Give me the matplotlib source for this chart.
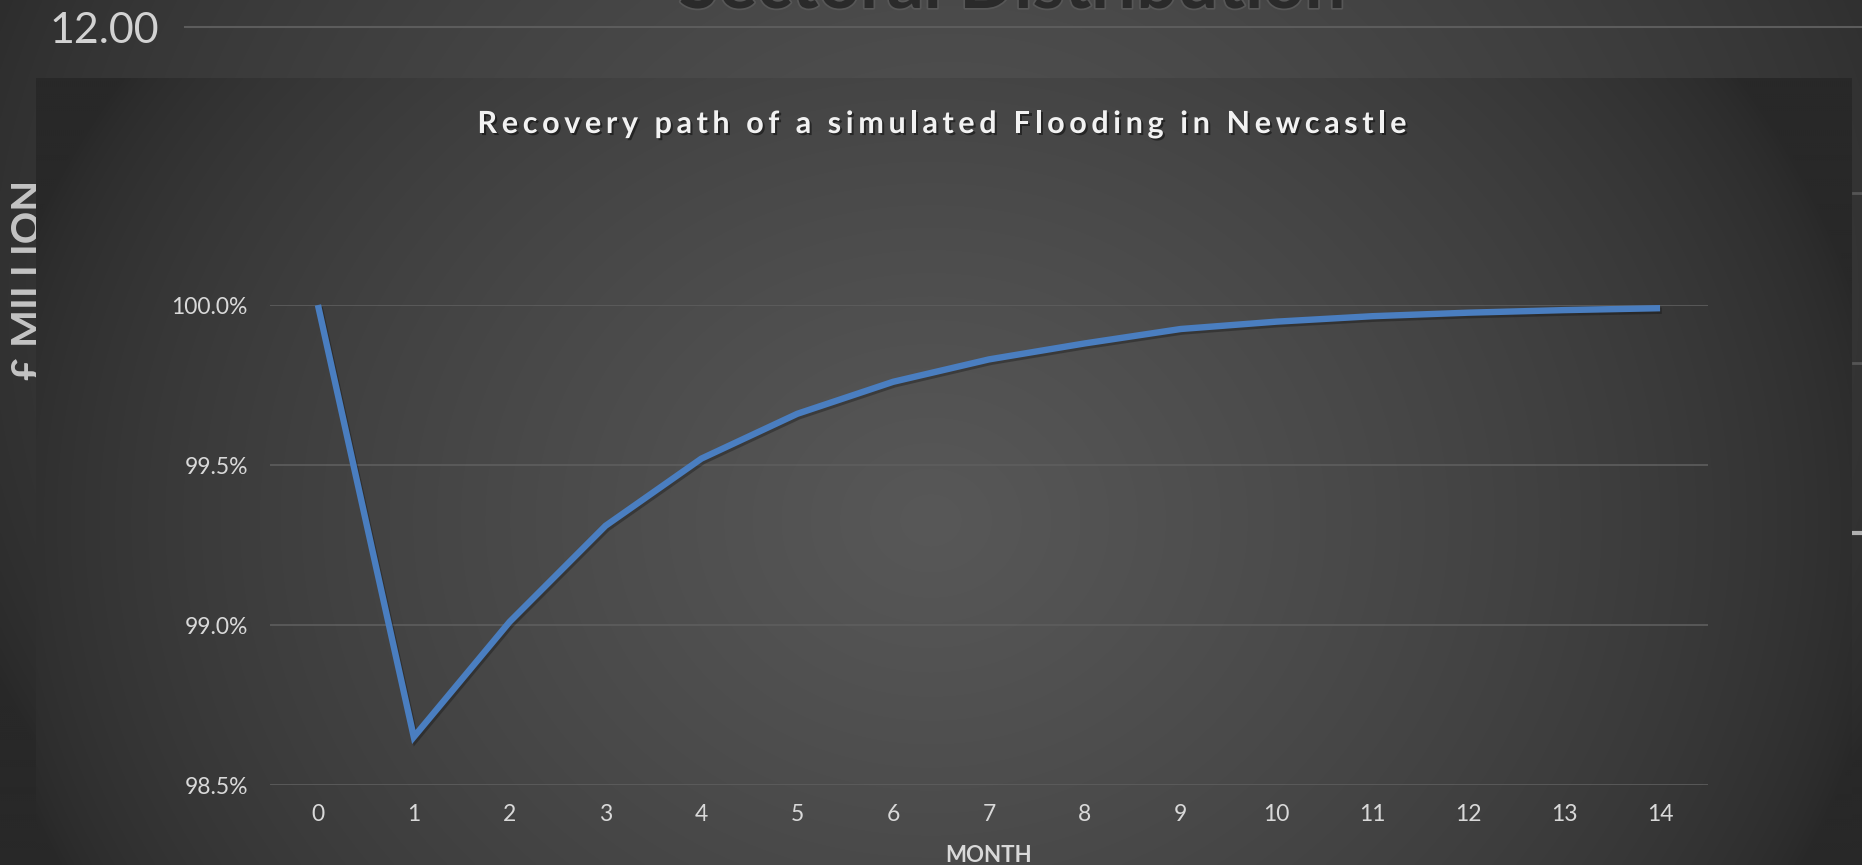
import numpy as np
import matplotlib.pyplot as plt
import matplotlib.patheffects as pe
from matplotlib.ticker import FuncFormatter

plt.rcParams['font.family'] = ['Lato', 'DejaVu Sans']

# recovery of output after the flood, share of pre-flood level (%)
months = list(range(15))
recovery = [100.0, 98.65, 99.01, 99.31, 99.52, 99.66, 99.76, 99.83, 99.88,
            99.925, 99.948, 99.965, 99.976, 99.984, 99.99]
y_ticks = [98.5, 99.0, 99.5, 100.0]

title = 'Recovery path of a simulated Flooding in Newcastle'
x_title = 'MONTH'
back_title = 'Sectoral Distribution'
back_tick = '12.00'
back_ylabel = '£ MILLION'

W, H = 1862, 865
fig = plt.figure(figsize=(W / 100, H / 100), dpi=100)

# background layer in pixel units
bg = fig.add_axes([0, 0, 1, 1])
bg.set_xlim(0, W)
bg.set_ylim(H, 0)
bg.axis('off')


def radial(xx, yy, cx, cy, rx, ry, lo, hi, p=0.65):
    r = np.sqrt(((xx - cx) / rx) ** 2 + ((yy - cy) / ry) ** 2)
    g = lo + (hi - lo) * np.clip(1 - r, 0, 1) ** p
    g = g / 255.0
    return np.dstack([g, g, g])


yy, xx = np.mgrid[0:H:2, 0:W:2]
bg.imshow(radial(xx, yy, 950, 300, 1050, 900, 40, 84), extent=(0, W, H, 0),
          aspect='auto', zorder=0, interpolation='bilinear')

# slide behind the chart: axis label, top tick and title of the other chart
bg.text(41, 280, back_ylabel, rotation=90, rotation_mode='anchor',
        ha='center', va='baseline', fontsize=29, fontweight='bold',
        color='#c4c4c4', zorder=1)
bg.plot([185, W], [27, 27], color='#5c5c5c', lw=1.5, zorder=1)
bg.text(49, 31, back_tick, ha='left', va='center', fontsize=31,
        color='#d2d2d2', zorder=1)
bg.text(1012, 8, back_title, ha='center', va='baseline', fontsize=52,
        fontweight='bold', color='#2a2a2a', zorder=1,
        path_effects=[pe.withStroke(linewidth=2.5, foreground='#575757')])
for ty, col, lw in [(193, '#555555', 2), (363, '#555555', 2), (533, '#b0b0b0', 3)]:
    bg.plot([1853, W], [ty, ty], color=col, lw=lw, zorder=1)

# chart panel
px0, px1, py0, py1 = 36, 1852, 78, H
pyy, pxx = np.mgrid[py0:py1:2, px0:px1:2]
bg.imshow(radial(pxx, pyy, 930, 520, 960, 820, 40, 88), extent=(px0, px1, py1, py0),
          aspect='auto', zorder=2, interpolation='bilinear')
bg.set_xlim(0, W)
bg.set_ylim(H, 0)

# title with letter spacing
renderer = fig.canvas.get_renderer()
tkw = dict(fontsize=22, fontweight='bold', color='#f2f2f2')
spacing = 4.6


def text_width(s):
    t = bg.text(0, 0, s, **tkw)
    w = t.get_window_extent(renderer).width
    t.remove()
    return w


total = text_width(title) + spacing * (len(title) - 1)
x0 = 942 - total / 2
for i, ch in enumerate(title):
    if ch == ' ':
        continue
    xi = x0 + (text_width(title[:i]) if i else 0) + spacing * i
    bg.text(xi, 133, ch, ha='left', va='baseline', zorder=5,
            path_effects=[pe.withSimplePatchShadow(offset=(1.5, -1.5),
                                                   shadow_rgbFace='black', alpha=0.45)],
            **tkw)

bg.text(989, 855, x_title, ha='center', va='center', fontsize=16,
        fontweight='bold', color='#d9d9d9', zorder=5)

# the line chart itself
ax = fig.add_axes([270 / W, 1 - 785 / H, (1708 - 270) / W, (785 - 305) / H])
ax.set_facecolor('none')
ax.plot(months, recovery, color='#4a7ec0', lw=4.6, solid_joinstyle='miter',
        solid_capstyle='butt', clip_on=False, zorder=3,
        path_effects=[pe.SimpleLineShadow(offset=(1.2, -1.8), shadow_color='black',
                                          alpha=0.28), pe.Normal()])
ax.set_xlim(-0.5, 14.5)
ax.set_ylim(98.5, 100.0)
ax.set_xticks(months)
ax.set_yticks(y_ticks)
ax.yaxis.set_major_formatter(FuncFormatter(lambda v, _: f'{v:.1f}%'))
ax.grid(axis='y', color='#5e5e5e', lw=1.2)
ax.set_axisbelow(True)
for s in ax.spines.values():
    s.set_visible(False)
ax.tick_params(axis='both', length=0, labelsize=16.5, colors='#d9d9d9')
ax.tick_params(axis='y', pad=16)
ax.tick_params(axis='x', pad=14)

fig.savefig('out.png', dpi=100)
